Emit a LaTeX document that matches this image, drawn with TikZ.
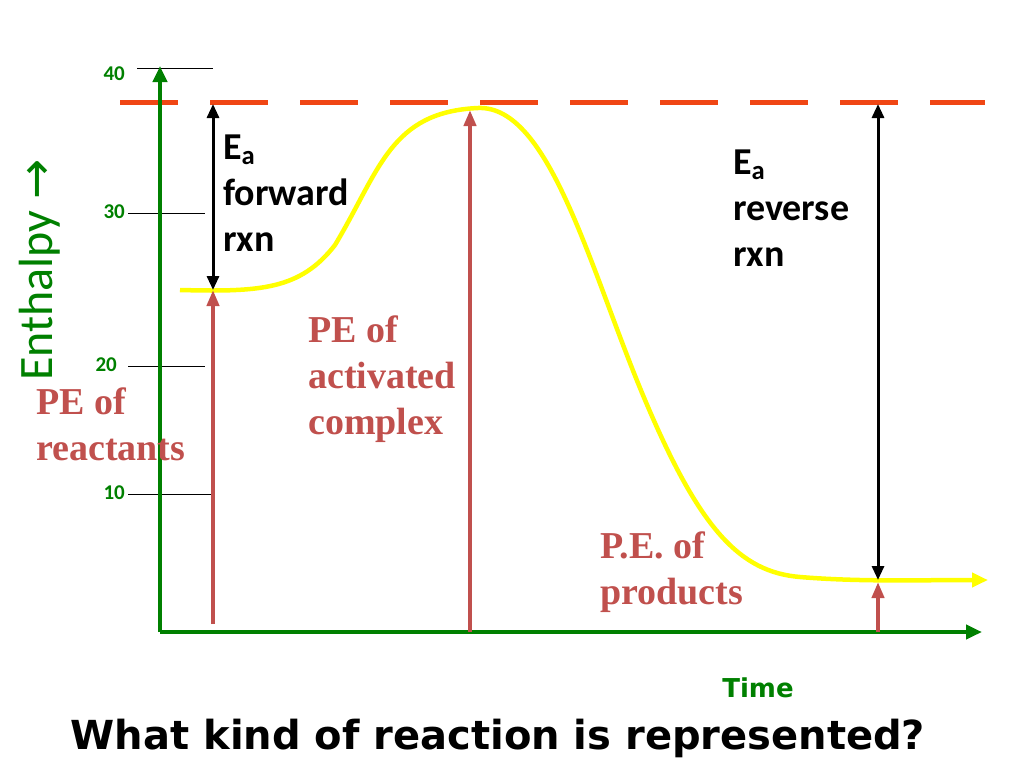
\documentclass[tikz,border=0pt]{standalone}
\usepackage{fontspec}
\setmainfont{Liberation Serif}
\newfontfamily\carlfont{Carlito}
\newfontfamily\dvfont{DejaVu Sans}
\usetikzlibrary{arrows.meta}
\definecolor{ax}{RGB}{0,128,0}
\definecolor{dsh}{RGB}{240,70,20}
\definecolor{brn}{RGB}{192,80,77}
\definecolor{yl}{RGB}{255,255,0}
\tikzset{
  axis/.style={ax,line width=4.5pt,-{Triangle[length=16pt,width=14pt]}},
  tick/.style={black,line width=0.6pt},
  ticklab/.style={ax,font=\carlfont\bfseries\fontsize{21}{21}\selectfont,anchor=east,inner sep=1pt},
  parr/.style={brn,line width=4pt,-{Triangle[length=16pt,width=12pt]}},
  earr/.style={black,line width=3pt,{Triangle[length=14pt,width=12pt]}-{Triangle[length=14pt,width=12pt]}},
  lab/.style={black,font=\carlfont\bfseries\fontsize{38}{46}\selectfont,align=left,anchor=north west,inner sep=0pt},
  plab/.style={brn,font=\bfseries\fontsize{38}{46}\selectfont,align=left,anchor=north west,inner sep=0pt},
}
\begin{document}
\begin{tikzpicture}[x=1pt,y=-1pt]
\useasboundingbox (0,0) rectangle (1024,768);
\coordinate (o) at (160,632);
\coordinate (ytop) at (160,66);
\coordinate (xend) at (982,632);
% ticks
\draw[tick] (137,68) -- (213,68);
\draw[tick] (128,213) -- (205,213);
\draw[tick] (128,366) -- (205,366);
\draw[tick] (128,494) -- (213,494);
\node[ticklab] (t40) at (126,74) {40};
\node[ticklab] (t30) at (126,212) {30};
\node[ticklab] (t20) at (118,365) {20};
\node[ticklab] (t10) at (126,493) {10};
% dashed
\coordinate (d1) at (120,102);
\coordinate (d2) at (985,102);
\draw[dsh,line width=5pt,dash pattern=on 58pt off 32pt] (d1) -- (d2);
% axes
\draw[axis] (o) -- (ytop);
\draw[axis] (o) -- (xend);
% curve
\coordinate (c0) at (180,290);
\coordinate (peak) at (478,108);
\coordinate (cend) at (988,580);
\draw[yl,line width=4.5pt,-{Triangle[length=16pt,width=14pt]}] (c0)
  .. controls (260,292) and (300,290) .. (335,245)
  .. controls (380,170) and (390,112) .. (peak)
  .. controls (550,105) and (590,270) .. (645,400)
  .. controls (700,530) and (740,572) .. (800,577)
  .. controls (860,582) and (920,580) .. (cend);
% arrows
\coordinate (r0) at (213,624); \coordinate (r1) at (213,290);
\coordinate (a0) at (470,632); \coordinate (a1) at (470,110);
\coordinate (p0) at (878,632); \coordinate (p1) at (878,582);
\draw[parr] (r0) -- (r1);
\draw[parr] (a0) -- (a1);
\draw[parr] (p0) -- (p1);
\coordinate (e1) at (213,104); \coordinate (e2) at (213,290);
\coordinate (f1) at (878,104); \coordinate (f2) at (878,580);
\draw[earr] (e1) -- (e2);
\draw[earr] (f1) -- (f2);
% labels
\node[lab] (ef) at (223,135) {E\textsubscript{a}\\forward\\rxn};
\node[lab] (er) at (733,150) {E\textsubscript{a}\\reverse\\rxn};
\node[plab] (pr) at (36,388) {PE of\\reactants};
\node[plab] (pa) at (308,316) {PE of\\activated\\complex};
\node[plab] (pp) at (600,532) {P.E. of\\products};
\node[ax,rotate=90,font=\carlfont\fontsize{48}{48}\selectfont] (en) at (40,270) {Enthalpy {\dvfont→}};
\node[ax,font=\dvfont\bfseries\fontsize{26}{26}\selectfont] (tm) at (758,688) {Time};
\node[black,font=\dvfont\bfseries\fontsize{40}{40}\selectfont] (q) at (498,738) {What kind of reaction is represented?};
\end{tikzpicture}
\end{document}
